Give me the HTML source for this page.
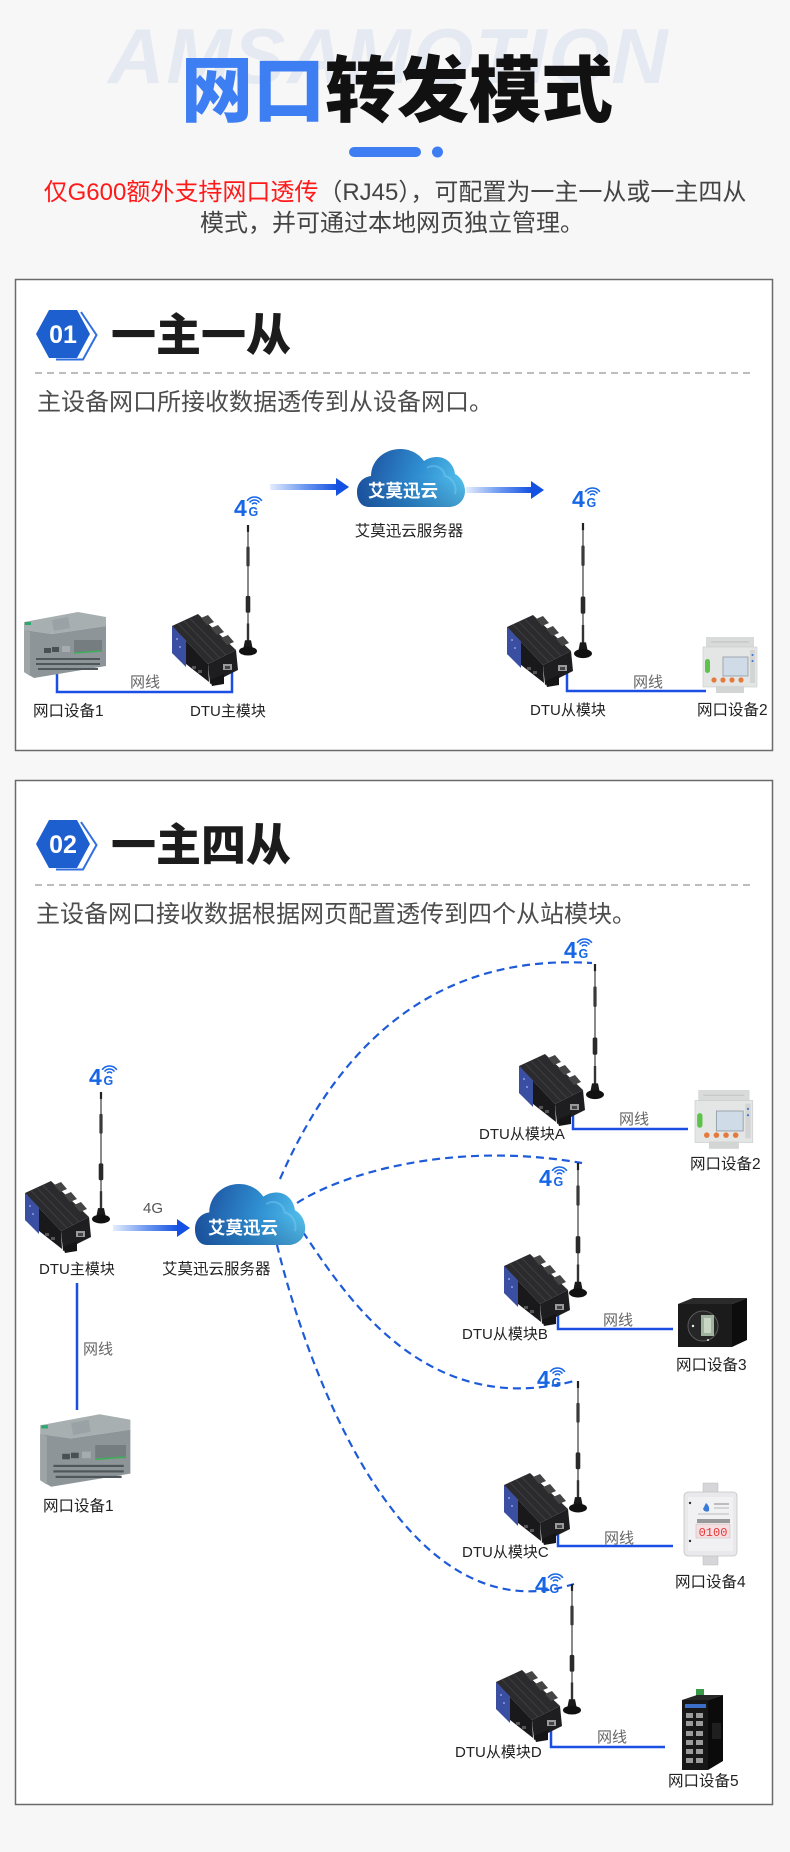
<!DOCTYPE html>
<html>
<head>
<meta charset="utf-8">
<style>
html,body{margin:0;padding:0;background:#f7f7f7;}
body{width:790px;height:1852px;overflow:hidden;}
svg{display:block;}
.t{font-family:"Liberation Sans","Noto Sans CJK SC",sans-serif;}
.h{font-family:"Noto Sans CJK SC","Liberation Sans",sans-serif;font-weight:900;}
</style>
</head>
<body>
<svg width="790" height="1852" viewBox="0 0 790 1852" xmlns="http://www.w3.org/2000/svg">
<defs>
  <linearGradient id="arr" x1="0" y1="0" x2="1" y2="0">
    <stop offset="0" stop-color="#e4edfd"/>
    <stop offset="0.5" stop-color="#6f9af0"/>
    <stop offset="1" stop-color="#1450e2"/>
  </linearGradient>
  <linearGradient id="cl" x1="0" y1="0.4" x2="1" y2="0.6">
    <stop offset="0" stop-color="#1c4f9e"/>
    <stop offset="0.55" stop-color="#2f8ed0"/>
    <stop offset="1" stop-color="#55c3ee"/>
  </linearGradient>
  <linearGradient id="clb" x1="0" y1="0" x2="0" y2="1">
    <stop offset="0.5" stop-color="#0a2f70" stop-opacity="0"/>
    <stop offset="1" stop-color="#0a2f70" stop-opacity="0.3"/>
  </linearGradient>

  <!-- cloud 108x59 -->
  <g id="cloud">
    <path d="M12,59 C4,59 0,52 0,44 C0,35 6,29 14,28 C14,13 27,1 43,1 C54,1 62,6 67,13 C71,10 76,9 80,9 C90,9 97,17 98,26 C104,29 108,36 108,43 C108,52 101,59 92,59 Z" fill="url(#cl)"/>
    <path d="M12,59 C4,59 0,52 0,44 C0,35 6,29 14,28 C14,13 27,1 43,1 C54,1 62,6 67,13 C71,10 76,9 80,9 C90,9 97,17 98,26 C104,29 108,36 108,43 C108,52 101,59 92,59 Z" fill="url(#clb)"/>
    <path d="M70,20 C76,16 86,18 88,28 C96,30 100,38 98,46" fill="none" stroke="#8fd8f6" stroke-opacity="0.35" stroke-width="2"/>
  </g>

  <!-- 4G icon, origin = baseline-left of "4" -->
  <g id="g4">
    <text x="0" y="0" font-family="Liberation Sans, sans-serif" font-weight="bold" font-size="23" fill="#1666e6">4</text>
    <text x="14.5" y="0" font-family="Liberation Sans, sans-serif" font-weight="bold" font-size="12.5" fill="#1666e6">G</text>
    <path d="M18.04,-11.72 A3,3 0 0 1 22.96,-11.72" fill="none" stroke="#1666e6" stroke-width="1.6"/>
    <path d="M15.59,-13.44 A6,6 0 0 1 25.41,-13.44" fill="none" stroke="#1666e6" stroke-width="1.6"/>
    <path d="M13.13,-15.17 A9,9 0 0 1 27.87,-15.17" fill="none" stroke="#1666e6" stroke-width="1.6"/>
  </g>

  <!-- antenna, length 132 -->
  <g id="ant">
    <line x1="0" y1="0" x2="0" y2="126" stroke="#4a4a4a" stroke-width="1.3"/>
    <rect x="-1.1" y="0" width="2.2" height="7" fill="#222"/>
    <rect x="-1.6" y="22" width="3.2" height="20" rx="1" fill="#3a3a3a"/>
    <rect x="-2.3" y="72" width="4.6" height="17" rx="1.5" fill="#2a2a2a"/>
    <rect x="-1.2" y="100" width="2.4" height="20" fill="#333"/>
    <path d="M-3,117 L3,117 L5,127 L-5,127 Z" fill="#1a1a1a"/>
    <ellipse cx="0" cy="128" rx="9" ry="4.5" fill="#111"/>
  </g>

  <!-- DTU box -->
  <g id="dtu">
    <polygon points="36,50 64,36 66,56 38,70" fill="#1e1e20"/>
    <polygon points="0,12 36,50 37,68 0,39" fill="#19191b"/>
    <polygon points="0,12 26,0 64,36 36,50" fill="#2b2b2e"/>
    <line x1="6" y1="9.5" x2="42" y2="47" stroke="#3d3d42" stroke-width="1"/>
    <line x1="12" y1="7" x2="48" y2="44" stroke="#3d3d42" stroke-width="1"/>
    <line x1="18" y1="4.5" x2="54" y2="41" stroke="#3d3d42" stroke-width="1"/>
    <polygon points="0,12 14,26.5 14,53 0,39" fill="#3b4fa2"/>
    <circle cx="5" cy="25" r="1" fill="#8ea0e0"/>
    <circle cx="8" cy="33" r="1" fill="#8ea0e0"/>
    <polygon points="29,4 36,1 42,8 35,11" fill="#444"/>
    <polygon points="39,14 46,11 52,18 45,21" fill="#444"/>
    <polygon points="49,24 56,21 62,28 55,31" fill="#444"/>
    <rect x="20" y="52" width="4" height="3" fill="#555"/>
    <rect x="26" y="56" width="4" height="3" fill="#555"/>
    <polygon points="38,66 52,60 52,70 40,72" fill="#151515"/>
    <rect x="51" y="50" width="9" height="6" fill="#9a9a9a"/>
    <rect x="53" y="52" width="5" height="3" fill="#444"/>
  </g>

  <!-- PLC 84x68 -->
  <g id="plc">
    <polygon points="2,12 56,2 84,7 84,16 30,24 2,20" fill="#a8afb1"/>
    <polygon points="2,20 30,24 84,16 84,56 12,68 2,62" fill="#8e9598"/>
    <polygon points="2,20 8,22 8,66 2,62" fill="#9ea5a7"/>
    <rect x="3" y="12" width="6" height="3" fill="#2aa870"/>
    <polygon points="30,10 46,7 48,18 32,21" fill="#9aa2a5"/>
    <rect x="22" y="38" width="7" height="5" fill="#4a4f52"/>
    <rect x="30" y="37" width="7" height="5" fill="#4a4f52"/>
    <rect x="40" y="36" width="8" height="6" fill="#a5acaf"/>
    <rect x="52" y="30" width="28" height="12" fill="#757d80"/>
    <line x1="52" y1="43" x2="80" y2="41" stroke="#3fae5a" stroke-width="1.5"/>
    <g fill="#50575a">
      <rect x="14" y="48" width="64" height="2"/>
      <rect x="14" y="53" width="64" height="2"/>
      <rect x="16" y="58" width="60" height="2"/>
    </g>
  </g>

  <!-- meter 54x56 -->
  <g id="meter">
    <rect x="3" y="0" width="48" height="12" fill="#d9dbdb"/>
    <line x1="8" y1="5" x2="46" y2="5" stroke="#bfc1c1" stroke-width="1"/>
    <rect x="0" y="10" width="54" height="40" fill="#e4e6e6" stroke="#c8caca" stroke-width="0.6"/>
    <rect x="13" y="49" width="28" height="7" fill="#d3d5d5"/>
    <rect x="2" y="22" width="5" height="14" rx="2.5" fill="#5cc24a"/>
    <rect x="20" y="20" width="25" height="19" fill="#cfdbe6" stroke="#8f9aa3" stroke-width="0.8"/>
    <rect x="47" y="13" width="5" height="33" fill="#d3d5d5"/>
    <circle cx="49.5" cy="18" r="1" fill="#3a6fd0"/>
    <circle cx="49.5" cy="24" r="1" fill="#3a6fd0"/>
    <circle cx="11" cy="43" r="2.6" fill="#e47a3c"/>
    <circle cx="20" cy="43" r="2.6" fill="#e47a3c"/>
    <circle cx="29" cy="43" r="2.6" fill="#e47a3c"/>
    <circle cx="38" cy="43" r="2.6" fill="#e47a3c"/>
  </g>

  <!-- camera 69x49 -->
  <g id="cam">
    <polygon points="0,6 15,0 69,0 54,6" fill="#2a2a2a"/>
    <polygon points="54,6 69,0 69,42 54,49" fill="#0d0d0d"/>
    <rect x="0" y="6" width="54" height="43" fill="#1b1b1b"/>
    <circle cx="25" cy="28" r="15" fill="#262626" stroke="#5a5a5a" stroke-width="1"/>
    <rect x="23" y="17" width="13" height="21" fill="#9fb39e"/>
    <rect x="26" y="20" width="7" height="15" fill="#c8d6c3"/>
    <circle cx="15" cy="28" r="1.2" fill="#eee"/>
    <circle cx="30" cy="42" r="1" fill="#eee"/>
  </g>

  <!-- device4 53x82 -->
  <g id="dev4">
    <rect x="19" y="0" width="15" height="12" fill="#d6d6d8" stroke="#bbb" stroke-width="0.5"/>
    <rect x="19" y="70" width="15" height="12" fill="#d6d6d8" stroke="#bbb" stroke-width="0.5"/>
    <rect x="0" y="9" width="53" height="64" rx="4" fill="#e9e9eb" stroke="#c4c4c6" stroke-width="0.8"/>
    <rect x="4" y="14" width="45" height="54" fill="#f1f1f3"/>
    <path d="M22,20 q4,3 3,8 q-4,2 -6,-2 z" fill="#3a7bd5"/>
    <line x1="30" y1="21" x2="45" y2="21" stroke="#888" stroke-width="1"/>
    <line x1="30" y1="25" x2="45" y2="25" stroke="#aaa" stroke-width="0.8"/>
    <line x1="14" y1="31" x2="45" y2="31" stroke="#aaa" stroke-width="0.8"/>
    <rect x="13" y="36" width="33" height="4" fill="#999"/>
    <rect x="12" y="41" width="34" height="14" fill="#f6dde0" stroke="#bbb" stroke-width="0.5"/>
    <text x="29" y="53" text-anchor="middle" font-family="Liberation Mono, monospace" font-size="12" fill="#e23a3a">0100</text>
    <circle cx="6" cy="20" r="1.2" fill="#333"/>
    <circle cx="6" cy="58" r="1.2" fill="#333"/>
  </g>

  <!-- switch 41x75 -->
  <g id="sw">
    <rect x="14" y="-6" width="8" height="7" fill="#3a9a4a"/>
    <polygon points="0,5 15,0 41,0 26,5" fill="#262626"/>
    <polygon points="26,5 41,0 41,66 26,75" fill="#0b0b0b"/>
    <rect x="0" y="5" width="26" height="70" fill="#171717"/>
    <rect x="3" y="9" width="21" height="4" fill="#3b6fc7"/>
    <g fill="#9a9a9a">
      <rect x="4" y="18" width="7" height="5"/><rect x="14" y="18" width="7" height="5"/>
      <rect x="4" y="26" width="7" height="5"/><rect x="14" y="26" width="7" height="5"/>
      <rect x="4" y="36" width="7" height="5"/><rect x="14" y="36" width="7" height="5"/>
      <rect x="4" y="45" width="7" height="5"/><rect x="14" y="45" width="7" height="5"/>
      <rect x="4" y="54" width="7" height="5"/><rect x="14" y="54" width="7" height="5"/>
      <rect x="4" y="63" width="7" height="5"/><rect x="14" y="63" width="7" height="5"/>
    </g>
    <rect x="30" y="28" width="9" height="16" fill="#1f1f1f"/>
  </g>
</defs>

<!-- background -->
<rect x="0" y="0" width="790" height="1852" fill="#f7f7f7"/>

<!-- watermark -->
<text x="108" y="83" font-family="Liberation Sans, sans-serif" font-weight="bold" font-style="italic" font-size="78" letter-spacing="2" fill="#e5e9f2">AMSAMOTION</text>

<!-- main title -->
<text x="181" y="116" class="h" font-size="72"><tspan fill="#3d7ef3">网口</tspan><tspan fill="#111">转发模式</tspan></text>

<!-- decoration -->
<rect x="349" y="147" width="72" height="10" rx="5" fill="#3f7ef2"/>
<circle cx="437.5" cy="152" r="5.5" fill="#3f7ef2"/>

<!-- subtitle -->
<text x="395" y="200" text-anchor="middle" class="t" font-size="24"><tspan fill="#ff1a1a">仅G600额外支持网口透传</tspan><tspan fill="#444">（RJ45），可配置为一主一从或一主四从</tspan></text>
<text x="392" y="231" text-anchor="middle" class="t" font-size="24" fill="#444">模式，并可通过本地网页独立管理。</text>

<!-- ================= Section 1 ================= -->
<rect x="15.5" y="279.5" width="757" height="471" fill="#ffffff" stroke="#6a6a6a" stroke-width="1.5"/>

<!-- badge 01 -->
<polyline points="81,312 96.5,335 83,359.5 56,359.5" fill="none" stroke="#2f6fe0" stroke-width="2"/>
<polygon points="36,334 49,310 77,310 90,334 77,358 49,358" fill="#1d5fcf"/>
<text x="63" y="343" text-anchor="middle" font-family="Liberation Sans, sans-serif" font-weight="bold" font-size="25" fill="#fff">01</text>
<text x="111" y="351" class="h" font-size="45" fill="#1c1c1c">一主一从</text>
<line x1="35" y1="373" x2="753" y2="373" stroke="#bdbdbd" stroke-width="2" stroke-dasharray="7 5"/>
<text x="37" y="410" class="t" font-size="24" fill="#4d4d4d">主设备网口所接收数据透传到从设备网口。</text>

<!-- arrows + cloud -->
<rect x="270" y="484" width="68" height="6" fill="url(#arr)"/>
<polygon points="336,478 349,487 336,496" fill="#1450e2"/>
<rect x="466" y="487" width="66" height="6" fill="url(#arr)"/>
<polygon points="531,481 544,490 531,499" fill="#1450e2"/>
<use href="#cloud" transform="translate(357,448)"/>
<text x="403" y="497" text-anchor="middle" class="t" font-weight="bold" font-size="17.5" fill="#fff">艾莫迅云</text>
<text x="409" y="536" text-anchor="middle" class="t" font-size="15.5" fill="#222">艾莫迅云服务器</text>

<!-- 4G icons -->
<use href="#g4" transform="translate(234,516)"/>
<use href="#g4" transform="translate(572,507)"/>

<!-- connectors sec1 -->
<path d="M57,652 V692 H232 V668" fill="none" stroke="#1b4fe4" stroke-width="2.5"/>
<path d="M567,667 V691 H706" fill="none" stroke="#1b4fe4" stroke-width="2.5"/>

<!-- devices sec1 -->
<use href="#plc" transform="translate(22,610)"/>
<use href="#dtu" transform="translate(172,614)"/>
<use href="#ant" transform="translate(248,525) scale(1,0.985)"/>
<use href="#dtu" transform="translate(507,615)"/>
<use href="#ant" transform="translate(583,523) scale(1,1.02)"/>
<use href="#meter" transform="translate(703,637)"/>

<!-- labels sec1 -->
<text x="130" y="687" class="t" font-size="15" fill="#666">网线</text>
<text x="633" y="687" class="t" font-size="15" fill="#666">网线</text>
<text x="33" y="716" class="t" font-size="15.5" fill="#222">网口设备1</text>
<text x="190" y="716" class="t" font-size="15" fill="#222">DTU主模块</text>
<text x="530" y="715" class="t" font-size="15" fill="#222">DTU从模块</text>
<text x="697" y="715" class="t" font-size="15.5" fill="#222">网口设备2</text>

<!-- ================= Section 2 ================= -->
<rect x="15.5" y="780.5" width="757" height="1024" fill="#ffffff" stroke="#6a6a6a" stroke-width="1.5"/>

<polyline points="81,822 96.5,845 83,869.5 56,869.5" fill="none" stroke="#2f6fe0" stroke-width="2"/>
<polygon points="36,844 49,820 77,820 90,844 77,868 49,868" fill="#1d5fcf"/>
<text x="63" y="853" text-anchor="middle" font-family="Liberation Sans, sans-serif" font-weight="bold" font-size="25" fill="#fff">02</text>
<text x="111" y="861" class="h" font-size="45" fill="#1c1c1c">一主四从</text>
<line x1="35" y1="885" x2="753" y2="885" stroke="#bdbdbd" stroke-width="2" stroke-dasharray="7 5"/>
<text x="36" y="922" class="t" font-size="24" fill="#4d4d4d">主设备网口接收数据根据网页配置透传到四个从站模块。</text>

<!-- dashed links -->
<g fill="none" stroke="#1e5bd8" stroke-width="2.2" stroke-dasharray="8 5">
  <path d="M280,1179 Q380,950 592,963"/>
  <path d="M297,1203 C340,1175 450,1140 582,1163"/>
  <path d="M303,1232 C345,1295 425,1420 574,1381"/>
  <path d="M277,1245 C305,1360 400,1640 574,1584"/>
</g>

<!-- master arrow + cloud -->
<rect x="113" y="1225" width="66" height="6" fill="url(#arr)"/>
<polygon points="177,1219 190,1228 177,1237" fill="#1450e2"/>
<text x="143" y="1213" class="t" font-size="15" fill="#555">4G</text>
<use href="#cloud" transform="translate(195,1183) scale(1.02,1.05)"/>
<text x="243" y="1234" text-anchor="middle" class="t" font-weight="bold" font-size="17.5" fill="#fff">艾莫迅云</text>
<text x="162" y="1274" class="t" font-size="15.5" fill="#222">艾莫迅云服务器</text>

<!-- 4G icons sec2 -->
<use href="#g4" transform="translate(89,1085)"/>
<use href="#g4" transform="translate(564,958)"/>
<use href="#g4" transform="translate(539,1186)"/>
<use href="#g4" transform="translate(537,1387)"/>
<use href="#g4" transform="translate(535,1593)"/>

<!-- connectors sec2 -->
<g fill="none" stroke="#1b4fe4" stroke-width="2.5">
  <path d="M77,1283 V1410"/>
  <path d="M573,1108 V1129 H688"/>
  <path d="M558,1307 V1329 H673"/>
  <path d="M558,1527 V1546 H673"/>
  <path d="M551,1723 V1747 H665"/>
</g>

<!-- devices sec2 -->
<use href="#dtu" transform="translate(25,1181)"/>
<use href="#ant" transform="translate(101,1092) scale(1,0.992)"/>
<use href="#plc" transform="translate(38,1412) scale(1.1,1.1)"/>

<use href="#dtu" transform="translate(519,1054)"/>
<use href="#ant" transform="translate(595,964) scale(1,1.02)"/>
<use href="#meter" transform="translate(695,1090) scale(1.07,1.05)"/>

<use href="#dtu" transform="translate(504,1254)"/>
<use href="#ant" transform="translate(578,1163) scale(1,1.015)"/>
<use href="#cam" transform="translate(678,1298)"/>

<use href="#dtu" transform="translate(504,1473)"/>
<use href="#ant" transform="translate(578,1381) scale(1,0.992)"/>
<use href="#dev4" transform="translate(684,1483)"/>

<use href="#dtu" transform="translate(496,1670)"/>
<use href="#ant" transform="translate(572,1584) scale(1,0.985)"/>
<use href="#sw" transform="translate(682,1695)"/>

<!-- labels sec2 -->
<text x="39" y="1274" class="t" font-size="15" fill="#222">DTU主模块</text>
<text x="83" y="1354" class="t" font-size="15" fill="#666">网线</text>
<text x="43" y="1511" class="t" font-size="15.5" fill="#222">网口设备1</text>

<text x="619" y="1124" class="t" font-size="15" fill="#666">网线</text>
<text x="479" y="1139" class="t" font-size="15" fill="#222">DTU从模块A</text>
<text x="690" y="1169" class="t" font-size="15.5" fill="#222">网口设备2</text>

<text x="603" y="1325" class="t" font-size="15" fill="#666">网线</text>
<text x="462" y="1339" class="t" font-size="15" fill="#222">DTU从模块B</text>
<text x="676" y="1370" class="t" font-size="15.5" fill="#222">网口设备3</text>

<text x="604" y="1543" class="t" font-size="15" fill="#666">网线</text>
<text x="462" y="1557" class="t" font-size="15" fill="#222">DTU从模块C</text>
<text x="675" y="1587" class="t" font-size="15.5" fill="#222">网口设备4</text>

<text x="597" y="1742" class="t" font-size="15" fill="#666">网线</text>
<text x="455" y="1757" class="t" font-size="15" fill="#222">DTU从模块D</text>
<text x="668" y="1786" class="t" font-size="15.5" fill="#222">网口设备5</text>
</svg>
</body>
</html>
